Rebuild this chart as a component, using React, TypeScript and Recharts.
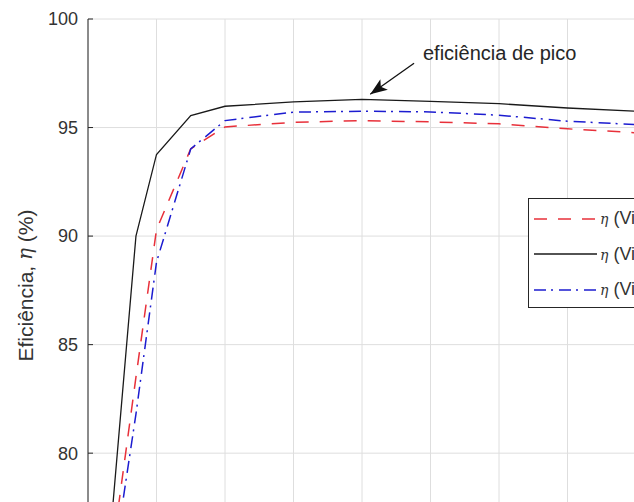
import React from "react";
import {
  LineChart,
  Line,
  XAxis,
  YAxis,
  CartesianGrid,
  Legend,
  ReferenceLine,
  ReferenceDot,
} from "recharts";

// ---- data ----
const xValues = [0.3, 0.7, 1, 1.5, 2, 3, 4, 5, 6, 7, 8, 9, 10];
const etaRed = [74.2, 83.5, 90.3, 94.02, 95.03, 95.24, 95.32, 95.26, 95.17, 94.94, 94.76, 94.55, 94.35];
const etaBlack = [75.3, 90.0, 93.76, 95.55, 95.98, 96.18, 96.3, 96.21, 96.1, 95.9, 95.75, 95.6, 95.45];
const etaBlue = [73.4, 81.8, 88.8, 94.02, 95.32, 95.71, 95.75, 95.72, 95.57, 95.29, 95.14, 95.0, 94.85];

const xTicks = [0, 1, 2, 3, 4, 5, 6, 7, 8, 9, 10];
const yTicks = [80, 85, 90, 95, 100];
const xDomain: [number, number] = [0, 10];
const yDomain: [number, number] = [76, 100];

const legendNames = ["η (Vin = 36 V)", "η (Vin = 48 V)", "η (Vin = 60 V)"];

const peakText = "eficiência de pico";
const peakTextAt = { x: 4.89, y: 98.11 };
const arrowTail = { x: 4.76, y: 97.96 };
const arrowTip = { x: 4.12, y: 96.53 };

const data = xValues.map((x, i) => ({
  x,
  red: etaRed[i],
  black: etaBlack[i],
  blue: etaBlue[i],
}));

const series = [
  { key: "red", name: legendNames[0], color: "#e8303a", dash: "13 11", width: 1.5 },
  { key: "black", name: legendNames[1], color: "#1a1a1a", dash: undefined as string | undefined, width: 1.3 },
  { key: "blue", name: legendNames[2], color: "#1c1cd0", dash: "12 5 2 6", width: 1.5 },
];

const FONT = "'Liberation Sans', Arial, Helvetica, sans-serif";
const AXIS = "#262626";

function YLabel(props: any) {
  const vb = props.viewBox || { x: 0, y: 0, width: 0, height: 0 };
  const cx = vb.x + 25;
  const cy = vb.y + vb.height / 2 + 6;
  return (
    <text
      x={cx}
      y={cy}
      transform={`rotate(-90 ${cx} ${cy})`}
      textAnchor="middle"
      dominantBaseline="central"
      fontSize={21}
      fontFamily={FONT}
      fill="#333"
    >
      Eficiência,{" "}
      <tspan fontStyle="italic" fontFamily="'DejaVu Serif', 'Liberation Serif', serif" fontSize={20}>
        η
      </tspan>{" "}
      (%)
    </text>
  );
}

function LegendBox(props: any) {
  const payload: any[] = props.payload || [];
  return (
    <div
      style={{
        border: "1px solid #262626",
        background: "#fff",
        width: 220,
        height: 110,
        boxSizing: "border-box",
        paddingTop: 2,
        fontFamily: FONT,
      }}
    >
      {payload.map((entry: any) => {
        const s = series.find((q) => q.key === entry.dataKey) || series[0];
        const [eta, ...rest] = s.name.split(" ");
        return (
          <div
            key={s.key}
            style={{ height: 35.5, display: "flex", alignItems: "center" }}
          >
            <svg width={63} height={10} style={{ marginLeft: 5, display: "block" }}>
              <line
                x1={0}
                y1={5}
                x2={63}
                y2={5}
                stroke={s.color}
                strokeWidth={s.width}
                strokeDasharray={s.dash}
              />
            </svg>
            <span style={{ marginLeft: 3, fontSize: 18, color: "#333", whiteSpace: "nowrap" }}>
              <span style={{ fontStyle: "italic", fontFamily: "'DejaVu Serif', serif", fontSize: 14 }}>{eta}</span>{" "}
              {rest.join(" ")}
            </span>
          </div>
        );
      })}
    </div>
  );
}

function PeakText(props: any) {
  return (
    <text
      x={props.cx}
      y={props.cy}
      fontSize={20}
      fontFamily={FONT}
      fill="#262626"
    >
      {peakText}
    </text>
  );
}

function ArrowHead(props: any) {
  const { cx, cy } = props;
  return (
    <polygon
      points="0,0 -17,-6.5 -13,0 -17,6.5"
      fill="#111"
      transform={`translate(${cx} ${cy}) rotate(144.8)`}
    />
  );
}

export default function App() {
  return (
    <div
      style={{
        position: "fixed",
        left: 0,
        top: 0,
        width: 634,
        height: 502,
        overflow: "hidden",
        background: "#fff",
      }}
    >
      <LineChart
        width={793}
        height={600}
        data={data}
        margin={{ top: 19, right: 20, bottom: 30, left: 0 }}
      >
        <CartesianGrid stroke="#dedede" strokeWidth={1} xAxisId={0} yAxisId={0} />
        <XAxis
          xAxisId={0}
          dataKey="x"
          type="number"
          domain={xDomain}
          ticks={xTicks}
          height={30}
          tickSize={-5}
          stroke={AXIS}
          tick={{ fontSize: 18, fontFamily: FONT, fill: "#333" }}
        />
        <XAxis
          xAxisId="top"
          orientation="top"
          dataKey="x"
          type="number"
          domain={xDomain}
          ticks={xTicks}
          height={0}
          tickSize={-5}
          stroke={AXIS}
          tick={false}
        />
        <YAxis
          yAxisId={0}
          type="number"
          domain={yDomain}
          ticks={yTicks}
          allowDataOverflow
          width={88}
          tickSize={-5}
          tickMargin={15}
          stroke={AXIS}
          tick={{ fontSize: 18, fontFamily: FONT, fill: "#333" }}
          label={{ content: YLabel }}
        />
        {series.map((s) => (
          <Line
            key={s.key}
            xAxisId={0}
            yAxisId={0}
            type="linear"
            dataKey={s.key}
            name={s.name}
            stroke={s.color}
            strokeWidth={s.width}
            strokeDasharray={s.dash}
            dot={false}
            activeDot={false}
            isAnimationActive={false}
          />
        ))}
        <ReferenceLine
          xAxisId={0}
          yAxisId={0}
          segment={[arrowTail, arrowTip]}
          stroke="#111"
          strokeWidth={1.3}
        />
        <ReferenceDot
          xAxisId={0}
          yAxisId={0}
          x={arrowTip.x}
          y={arrowTip.y}
          r={0}
          shape={ArrowHead}
        />
        <ReferenceDot
          xAxisId={0}
          yAxisId={0}
          x={peakTextAt.x}
          y={peakTextAt.y}
          r={0}
          shape={PeakText}
        />
        <Legend
          layout="vertical"
          align="center"
          verticalAlign="middle"
          wrapperStyle={{ left: 528, top: 198, width: 220, height: 110 }}
          content={LegendBox}
        />
      </LineChart>
    </div>
  );
}
